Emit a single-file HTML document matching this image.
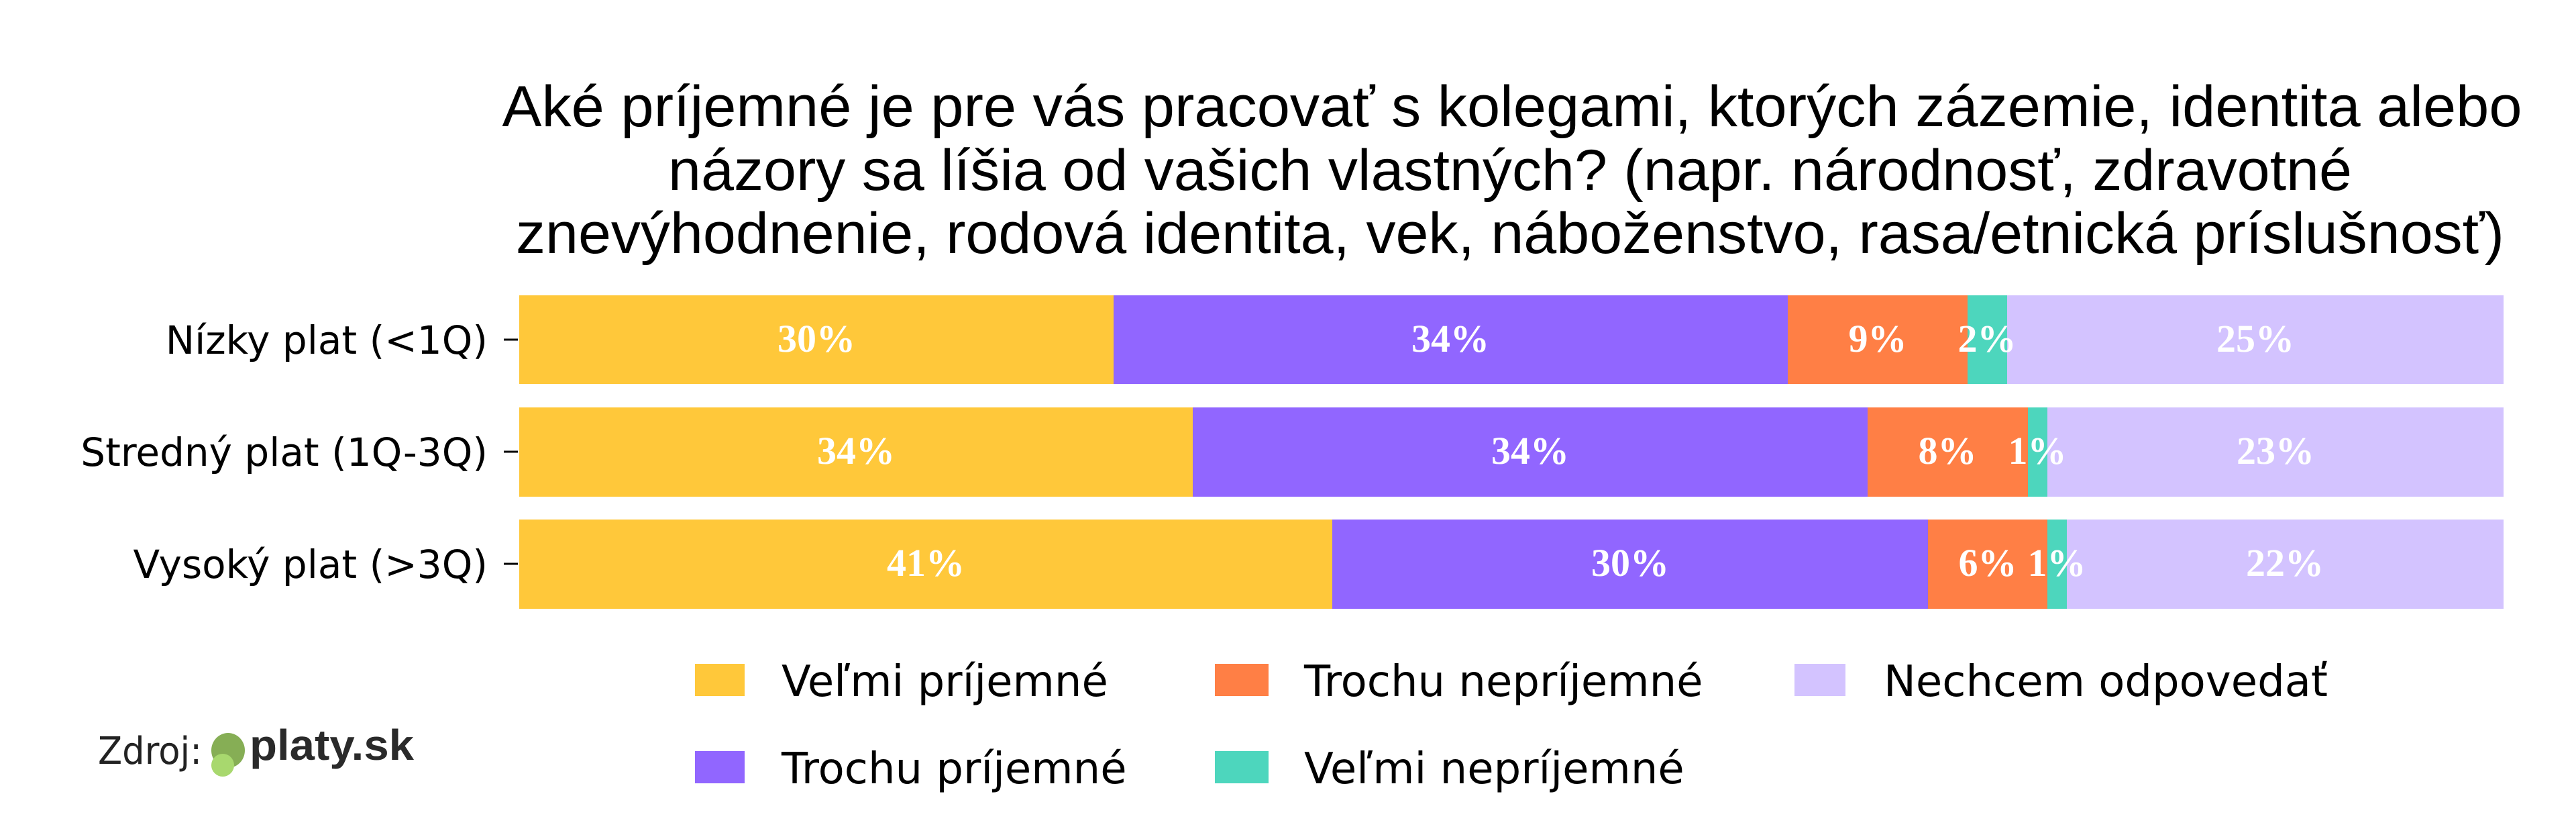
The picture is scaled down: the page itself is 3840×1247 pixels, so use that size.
<!DOCTYPE html>
<html><head><meta charset="utf-8"><style>
html,body{margin:0;padding:0;background:#fff;}
svg{display:block;}
</style></head><body>
<svg width="3840" height="1247" viewBox="0 0 3840 1247" xmlns="http://www.w3.org/2000/svg">
<g font-family="Liberation Sans, Arial, sans-serif" font-size="86" fill="#000" text-anchor="middle">
<text x="2254" y="188" textLength="3011" lengthAdjust="spacingAndGlyphs">Aké príjemné je pre vás pracovať s kolegami, ktorých zázemie, identita alebo</text>
<text x="2251" y="283" textLength="2510" lengthAdjust="spacingAndGlyphs">názory sa líšia od vašich vlastných? (napr. národnosť, zdravotné</text>
<text x="2251" y="377" textLength="2964" lengthAdjust="spacingAndGlyphs">znevýhodnenie, rodová identita, vek, náboženstvo, rasa/etnická príslušnosť)</text>
</g>
<!-- bars -->
<g>
<rect x="774" y="440" width="886" height="132" fill="#FFC83A"/>
<rect x="1660" y="440" width="1005" height="132" fill="#9166FF"/>
<rect x="2665" y="440" width="268" height="132" fill="#FF7F45"/>
<rect x="2933" y="440" width="59" height="132" fill="#4DD6BD"/>
<rect x="2992" y="440" width="740" height="132" fill="#D3C3FF"/>

<rect x="774" y="607" width="1004" height="133" fill="#FFC83A"/>
<rect x="1778" y="607" width="1006" height="133" fill="#9166FF"/>
<rect x="2784" y="607" width="239" height="133" fill="#FF7F45"/>
<rect x="3023" y="607" width="29" height="133" fill="#4DD6BD"/>
<rect x="3052" y="607" width="680" height="133" fill="#D3C3FF"/>

<rect x="774" y="774" width="1212" height="133" fill="#FFC83A"/>
<rect x="1986" y="774" width="888" height="133" fill="#9166FF"/>
<rect x="2874" y="774" width="178" height="133" fill="#FF7F45"/>
<rect x="3052" y="774" width="29" height="133" fill="#4DD6BD"/>
<rect x="3081" y="774" width="651" height="133" fill="#D3C3FF"/>
</g>
<g font-family="Liberation Serif, serif" font-size="58" font-weight="bold" fill="#fff" text-anchor="middle">
<text x="1217" y="524">30%</text><text x="2162" y="524">34%</text><text x="2799" y="524">9%</text><text x="2962" y="524">2%</text><text x="3362" y="524">25%</text>
<text x="1276" y="691">34%</text><text x="2281" y="691">34%</text><text x="2903" y="691">8%</text><text x="3037" y="691">1%</text><text x="3392" y="691">23%</text>
<text x="1380" y="858">41%</text><text x="2430" y="858">30%</text><text x="2963" y="858">6%</text><text x="3066" y="858">1%</text><text x="3406" y="858">22%</text>
</g>
<!-- y labels & ticks -->
<g font-family="DejaVu Sans, sans-serif" font-size="58" fill="#000" text-anchor="end">
<text x="727" y="527">Nízky plat (&lt;1Q)</text>
<text x="727" y="694">Stredný plat (1Q-3Q)</text>
<text x="727" y="861">Vysoký plat (&gt;3Q)</text>
</g>
<g stroke="#000" stroke-width="3">
<line x1="751" y1="506" x2="772" y2="506"/>
<line x1="751" y1="673" x2="772" y2="673"/>
<line x1="751" y1="840" x2="772" y2="840"/>
</g>
<!-- legend -->
<rect x="1036" y="989" width="74" height="48" fill="#FFC83A"/>
<rect x="1036" y="1119" width="74" height="48" fill="#9166FF"/>
<rect x="1811" y="989" width="80" height="48" fill="#FF7F45"/>
<rect x="1811" y="1119" width="80" height="48" fill="#4DD6BD"/>
<rect x="2675" y="989" width="76" height="48" fill="#D3C3FF"/>
<g font-family="DejaVu Sans, sans-serif" font-size="64" fill="#000">
<text x="1165" y="1037">Veľmi príjemné</text>
<text x="1165" y="1167">Trochu príjemné</text>
<text x="1944" y="1037">Trochu nepríjemné</text>
<text x="1944" y="1167">Veľmi nepríjemné</text>
<text x="2808" y="1037">Nechcem odpovedať</text>
</g>
<!-- source -->
<text x="146" y="1138" font-family="DejaVu Sans, sans-serif" font-size="56" fill="#222" textLength="155" lengthAdjust="spacingAndGlyphs">Zdroj:</text>
<ellipse cx="340" cy="1118" rx="25" ry="26" fill="#86AE55"/>
<ellipse cx="332" cy="1140" rx="17" ry="17" fill="#A8D86E"/>
<text x="372" y="1132" font-family="Liberation Sans, sans-serif" font-weight="bold" font-size="64" fill="#2a2a2a" textLength="245" lengthAdjust="spacingAndGlyphs">platy.sk</text>
</svg>
</body></html>
